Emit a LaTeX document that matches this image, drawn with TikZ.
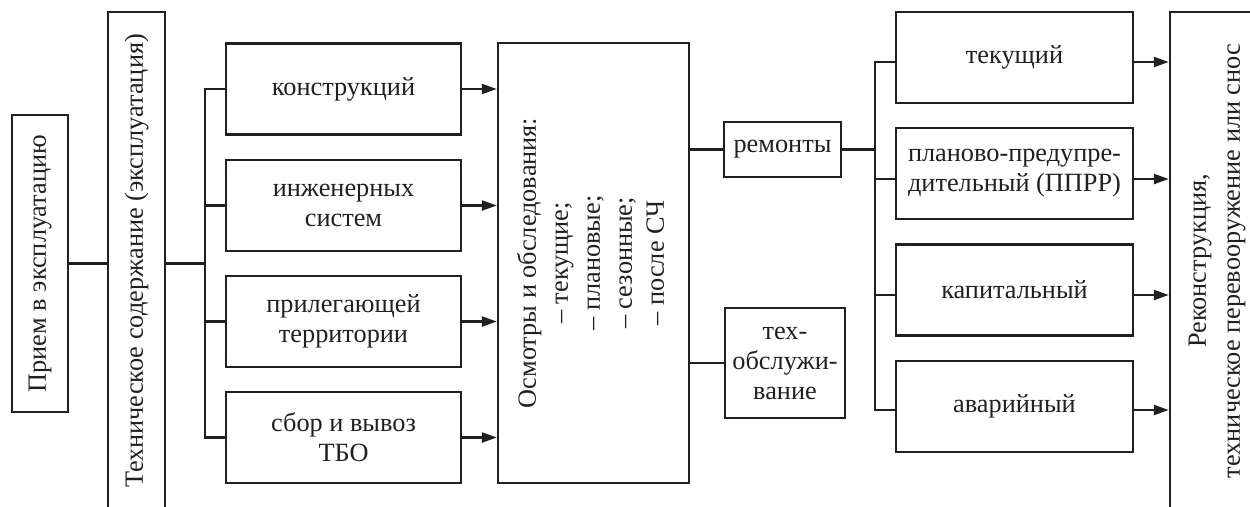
\documentclass[tikz,border=0pt]{standalone}
\usepackage{fontspec}
\setmainfont{Liberation Serif}
\usetikzlibrary{arrows.meta}
\definecolor{ink}{RGB}{35,31,32}
\begin{document}
\begin{tikzpicture}[x=1pt,y=-1pt,
  box/.style={draw=ink,line width=2.4pt,inner sep=0pt,text=ink,align=center,font=\fontsize{26.3}{30}\selectfont},
  conn/.style={draw=ink,line width=2.4pt},
  arr/.style={conn,-{Triangle[length=15pt,width=10pt]}}]
\useasboundingbox (0,0) rectangle (1250,506);
\clip (0,0) rectangle (1250,506);
% left column
\node[box,minimum width=56pt,minimum height=297pt] (priem) at (40,263.5) {\rotatebox{90}{Прием в эксплуатацию}};
\node[box,minimum width=57pt,minimum height=498pt] (tech) at (136.5,261) {\rotatebox{90}{Техническое содержание (эксплуатация)}};
% objects
\node[box,minimum width=235pt,minimum height=91pt] (k1) at (343.5,89) {конструкций};
\node[box,minimum width=235pt,minimum height=91pt] (k2) at (343.5,205.5) {инженерных\\систем};
\node[box,minimum width=235pt,minimum height=91pt] (k3) at (343.5,321.5) {прилегающей\\территории};
\node[box,minimum width=235pt,minimum height=91pt] (k4) at (343.5,437.5) {сбор и вывоз\\ТБО};
% inspections
\node[box,minimum width=191pt,minimum height=440pt] (osm) at (593.5,263) {\rotatebox{90}{\fontsize{26.3}{32}\selectfont\begin{tabular}{@{}c@{}}Осмотры и обследования:\\ – текущие;\\ – плановые;\\ – сезонные;\\ – после СЧ\end{tabular}}};
\node[box,minimum width=117pt,minimum height=55pt] (rem) at (782.5,149.5) {ремонты};
\node[box,minimum width=120pt,minimum height=110pt] (tob) at (785,363) {тех-\\обслужи-\\вание};
% repairs
\node[box,minimum width=237pt,minimum height=91pt] (r1) at (1014.5,57.5) {текущий};
\node[box,minimum width=237pt,minimum height=91pt] (r2) at (1014.5,173.5) {планово-предупре-\\дительный (ППРР)};
\node[box,minimum width=237pt,minimum height=91pt] (r3) at (1014.5,290) {капитальный};
\node[box,minimum width=237pt,minimum height=91pt] (r4) at (1014.5,406.5) {аварийный};
% final
\node[box,minimum width=92pt,minimum height=498pt] (big) at (1216,261) {\rotatebox{90}{\fontsize{26.3}{34}\selectfont\begin{tabular}{@{}c@{}}Реконструкция,\\техническое перевооружение или снос\end{tabular}}};
% connectors
\coordinate (b1) at (205,263.5);
\coordinate (b2) at (875,149.5);
\coordinate (y1) at (0,62);
\coordinate (y2) at (0,179);
\coordinate (y3) at (0,295);
\coordinate (y4) at (0,410);
\draw[conn] (priem.east) -- (priem.east -| tech.west);
\draw[conn] (tech.east |- b1) -- (b1);
\draw[conn] (k1.west) -| (b1) |- (k4.west);
\draw[conn] (k2.west) -- (k2.west -| b1);
\draw[conn] (k3.west) -- (k3.west -| b1);
\foreach \k in {k1,k2,k3,k4} \draw[arr] (\k.east) -- (\k.east -| osm.west);
\draw[conn] (osm.east |- rem.west) -- (rem.west);
\draw[conn] (osm.east |- tob.west) -- (tob.west);
\draw[conn] (rem.east) -- (b2);
\draw[conn] (r1.west |- y1) -| (b2) |- (r4.west |- y4);
\draw[conn] (r2.west |- y2) -- (b2 |- y2);
\draw[conn] (r3.west |- y3) -- (b2 |- y3);
\draw[arr] (r1.east |- y1) -- (big.west |- y1);
\draw[arr] (r2.east |- y2) -- (big.west |- y2);
\draw[arr] (r3.east |- y3) -- (big.west |- y3);
\draw[arr] (r4.east |- y4) -- (big.west |- y4);
\end{tikzpicture}
\end{document}
